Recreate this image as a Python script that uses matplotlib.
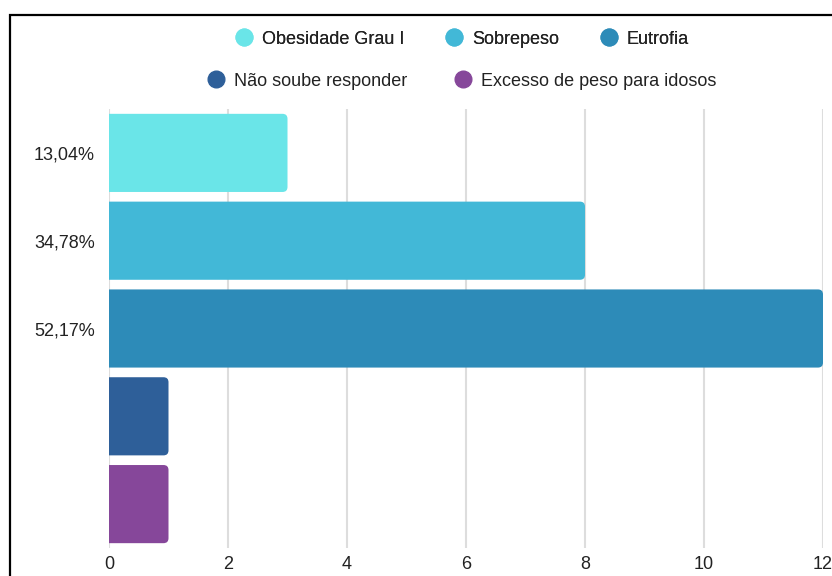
import matplotlib
matplotlib.use("Agg")
import matplotlib.pyplot as plt
from matplotlib.patches import FancyBboxPatch, Rectangle
from matplotlib.lines import Line2D

plt.rcParams['font.family'] = ['Liberation Sans', 'DejaVu Sans']

categories = ['Obesidade Grau I', 'Sobrepeso', 'Eutrofia',
              'Não soube responder', 'Excesso de peso para idosos']
values = [3, 8, 12, 1, 1]
bar_labels = ['13,04%', '34,78%', '52,17%', '', '']
colors = ['#6AE5E8', '#42B8D7', '#2D8BB8', '#2E5F99', '#86479A']
xticks = [0, 2, 4, 6, 8, 10, 12]

W, H = 832, 576
fig = plt.figure(figsize=(W / 100, H / 100), dpi=100)
ax = fig.add_axes([109 / W, 1 - 548 / H, 714 / W, 439 / H])

ypos = list(range(len(categories)))
bars = ax.barh(ypos, values, height=0.89, color=colors)

# rounded right corners; the left ones fall outside the axes and get clipped
px_x = 714 / 12.0
px_y = 439 / 5.0
r = 5 / px_x
aspect = px_x / px_y
for b, c in zip(bars, colors):
    x, y = b.get_x(), b.get_y()
    w, h = b.get_width(), b.get_height()
    b.set_visible(False)
    ax.add_patch(FancyBboxPatch((x - 3 * r, y), w + 3 * r, h,
                                boxstyle=f"round,pad=0,rounding_size={r}",
                                mutation_aspect=aspect, fc=c, ec='none', zorder=2))

ax.set_xlim(0, 12)
ax.set_ylim(4.5, -0.5)
ax.set_xticks(xticks)
ax.set_xticklabels([str(t) for t in xticks])
ax.set_yticks(ypos)
ax.set_yticklabels(bar_labels)
ax.tick_params(axis='both', length=0, labelsize=13, colors='#222222')
ax.tick_params(axis='y', pad=10)
ax.tick_params(axis='x', pad=6)
ax.grid(axis='x', color='#DDDDDD', linewidth=1.5, zorder=0)
ax.set_axisbelow(True)
for s in ax.spines.values():
    s.set_visible(False)

handles = [Line2D([], [], marker='o', linestyle='none', markersize=12,
                  markerfacecolor=c, markeredgecolor=c) for c in colors]
leg_kw = dict(frameon=False, fontsize=13, handlelength=1.0, handletextpad=0.5,
              loc='center', labelcolor='#222222')
leg1 = fig.legend(handles[:3], categories[:3], ncol=3, columnspacing=2.25,
                  bbox_to_anchor=(462 / W, 1 - 39 / H), **leg_kw)
fig.legend(handles[3:], categories[3:], ncol=2, columnspacing=2.6,
           bbox_to_anchor=(462 / W, 1 - 81 / H), **leg_kw)
fig.add_artist(leg1)

fig.add_artist(Rectangle((10 / W, -0.1), 1.0, 1.1 - 15 / H, transform=fig.transFigure,
                         fill=False, ec='black', lw=1.6))

fig.savefig('out.png', dpi=100)
